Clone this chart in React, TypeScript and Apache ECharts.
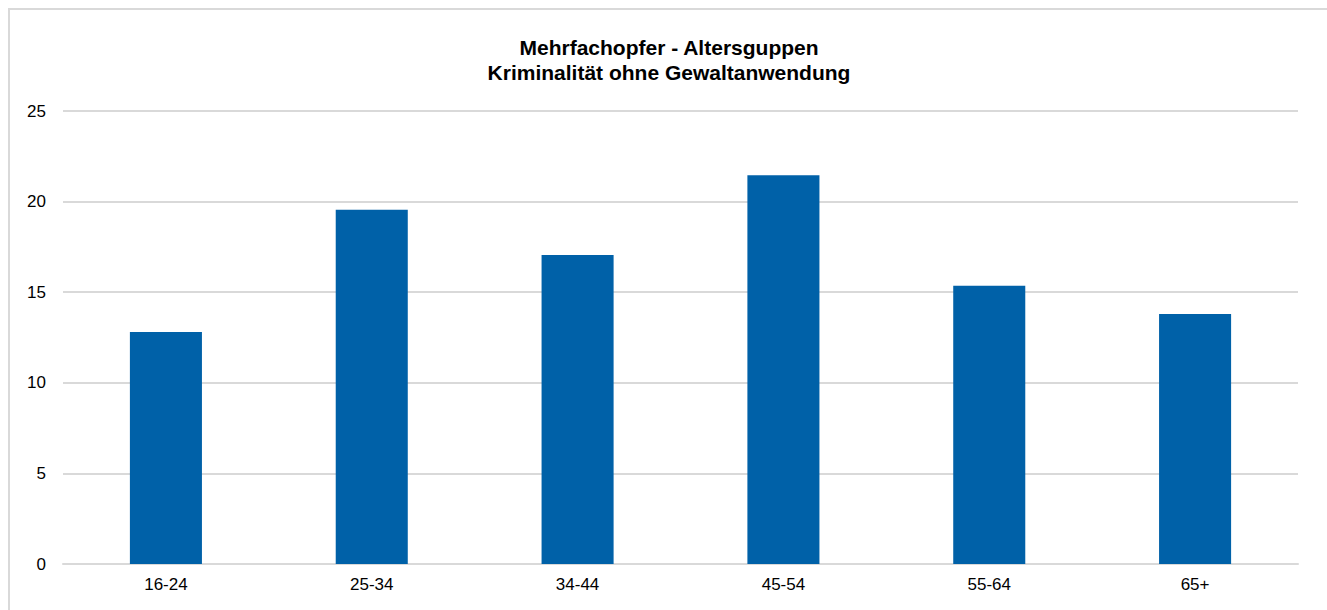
import React, { useEffect, useRef } from "react";
import * as echarts from "echarts";

const categories = ["16-24", "25-34", "34-44", "45-54", "55-64", "65+"];
const values = [12.8, 19.55, 17.05, 21.45, 15.35, 13.8];
const titleLines = ["Mehrfachopfer - Altersguppen", "Kriminalität ohne Gewaltanwendung"];

export default function App() {
  const ref = useRef<HTMLDivElement>(null);

  useEffect(() => {
    if (!ref.current) return;
    const chart = echarts.init(ref.current, null, { renderer: "svg" });
    chart.setOption({
      animation: false,
      backgroundColor: "#ffffff",
      textStyle: { fontFamily: "Liberation Sans, Arial, sans-serif" },
      title: {
        text: titleLines.join("\n"),
        left: 654,
        textAlign: "center",
        top: 20,
        textStyle: {
          fontSize: 21,
          fontWeight: "bold",
          color: "#000000",
          lineHeight: 25,
          fontFamily: "Liberation Sans, Arial, sans-serif",
        },
      },
      grid: { left: 53, right: 29, top: 101, bottom: 46 },
      xAxis: {
        type: "category",
        data: categories,
        axisLine: { lineStyle: { color: "#d9d9d9", width: 2 } },
        axisTick: { show: false },
        axisLabel: { color: "#000000", fontSize: 17, margin: 12 },
      },
      yAxis: {
        type: "value",
        min: 0,
        max: 25,
        interval: 5,
        axisLine: { show: false },
        axisTick: { show: false },
        axisLabel: { color: "#000000", fontSize: 17, margin: 17 },
        splitLine: { lineStyle: { color: "#d9d9d9", width: 2 } },
      },
      series: [
        {
          type: "bar",
          data: values,
          barWidth: "35%",
          itemStyle: { color: "#0061a8" },
        },
      ],
    });
    return () => chart.dispose();
  }, []);

  return (
    <div
      style={{
        position: "fixed",
        left: 0,
        top: 0,
        width: 1327,
        height: 610,
        overflow: "hidden",
        background: "#ffffff",
      }}
    >
      <div
        style={{
          position: "absolute",
          left: 8,
          top: 8,
          width: 1317,
          height: 600,
          borderLeft: "2px solid #d9d9d9",
          borderTop: "2px solid #d9d9d9",
        }}
      >
        <div ref={ref} style={{ width: 1317, height: 600 }} />
      </div>
    </div>
  );
}
